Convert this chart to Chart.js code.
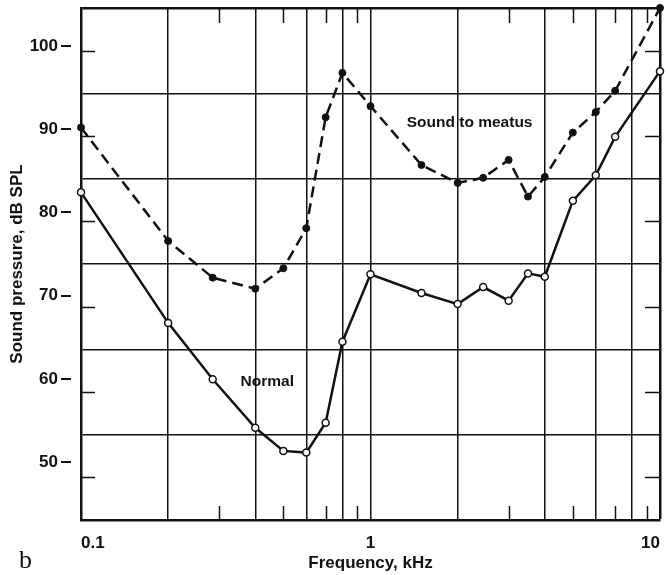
<!DOCTYPE html>
<html>
<head>
<meta charset="utf-8">
<script src="https://cdn.jsdelivr.net/npm/chart.js@4"></script>
<style>
  html, body { margin: 0; padding: 0; background: #fff; }
  #wrap { width: 668px; height: 575px; }
</style>
</head>
<body>
<div id="wrap"><canvas id="myChart" width="668" height="575"></canvas></div>
<script>
// frequencies (kHz) shared by both curves
const freqs = [0.1, 0.2, 0.285, 0.4, 0.5, 0.6, 0.7, 0.8, 1, 1.5, 2, 2.45, 3, 3.5, 4, 5, 6, 7, 10];
const soundToMeatus = [91.0, 77.7, 73.4, 72.1, 74.5, 79.2, 92.2, 97.4, 93.5, 86.6, 84.5, 85.1, 87.2, 82.9, 85.2, 90.4, 92.8, 95.3, 105];
const normal = [83.4, 68.1, 61.5, 55.8, 53.1, 52.9, 56.4, 65.9, 73.8, 71.6, 70.3, 72.3, 70.7, 73.9, 73.5, 82.4, 85.4, 89.9, 97.6];

// axis ticks
const xLabels = [0.1, 1, 10];
const xGrid = [0.2, 0.4, 0.6, 0.8, 1, 2, 4, 6, 8];
const xMinor = [0.3, 0.5, 0.7, 0.9, 3, 5, 7, 9];
const yLabels = [50, 60, 70, 80, 90, 100];
const yGrid = [55, 65, 75, 85, 95];

const ink = '#111';
const font = 'Liberation Sans, Arial, sans-serif';

const toPoints = (ys) => freqs.map((f, i) => ({ x: f, y: ys[i] }));
const near = (a, b) => Math.abs(a - b) < 1e-6;
const inList = (list, v) => list.some(u => near(u, v));
const noPad = (scale) => {
  scale.paddingTop = 0;
  scale.paddingBottom = 0;
  scale.paddingLeft = 0;
  scale.paddingRight = 0;
};

// inside tick marks, label dashes, curve names and panel letter
const decor = {
  id: 'decor',
  afterDraw(chart) {
    const { ctx, chartArea: a, scales: { x, y, yLab } } = chart;
    const line = (x1, y1, x2, y2) => { ctx.beginPath(); ctx.moveTo(x1, y1); ctx.lineTo(x2, y2); ctx.stroke(); };
    ctx.save();
    ctx.strokeStyle = ink;
    ctx.lineWidth = 1.5;
    xMinor.forEach(v => {
      const px = Math.round(x.getPixelForValue(v)) + 0.5;
      line(px, a.bottom, px, a.bottom - 14);
      line(px, a.top, px, a.top + 15);
    });
    yLabels.forEach(v => {
      const py = Math.round(y.getPixelForValue(v)) + 0.5;
      line(a.left, py, a.left + 14, py);
      line(a.right, py, a.right - 15, py);
    });
    ctx.lineWidth = 2;
    yLabels.forEach(v => {
      const py = Math.round(yLab.getPixelForValue(v));
      line(a.left - 20, py, a.left - 10, py);
    });

    ctx.fillStyle = ink;
    ctx.textAlign = 'center';
    ctx.textBaseline = 'middle';
    ctx.font = 'bold 15.5px ' + font;
    ctx.fillText('Sound to meatus', x.getPixelForValue(2.2), y.getPixelForValue(91.5));
    ctx.fillText('Normal', x.getPixelForValue(0.44), y.getPixelForValue(61.2));

    ctx.textAlign = 'left';
    ctx.textBaseline = 'alphabetic';
    ctx.font = '26px Liberation Serif, serif';
    ctx.fillText('b', 19, 568);
    ctx.restore();
  }
};

const ctx = document.getElementById('myChart');

new Chart(ctx, {
  type: 'line',
  data: {
    datasets: [{
      label: 'Sound to meatus',
      data: toPoints(soundToMeatus),
      borderColor: ink,
      borderWidth: 2.5,
      borderDash: [11, 6],
      pointRadius: 3.5,
      pointBackgroundColor: ink,
      pointBorderColor: ink,
      pointBorderWidth: 1,
      tension: 0,
      clip: 10
    }, {
      label: 'Normal',
      data: toPoints(normal),
      borderColor: ink,
      borderWidth: 2.5,
      pointRadius: 3.5,
      pointBackgroundColor: '#fff',
      pointBorderColor: ink,
      pointBorderWidth: 1.5,
      tension: 0,
      clip: 10
    }]
  },
  options: {
    responsive: false,
    animation: false,
    layout: { padding: { top: 8, right: 8, left: 0, bottom: 0 } },
    plugins: {
      legend: { display: false },
      tooltip: { enabled: false }
    },
    scales: {
      x: {
        type: 'logarithmic',
        min: 0.1,
        max: 10,
        afterBuildTicks: (scale) => {
          const vals = [0.1, 0.2, 0.3, 0.4, 0.5, 0.6, 0.7, 0.8, 0.9, 1, 2, 3, 4, 5, 6, 7, 8, 9, 10];
          scale.ticks = vals.map(v => ({ value: v }));
        },
        afterFit: (scale) => { scale.height = 55; noPad(scale); },
        border: { display: true, color: ink, width: 2.5 },
        grid: {
          drawTicks: false,
          color: (c) => (inList(xGrid, c.tick.value) || near(c.tick.value, 10)) ? ink : 'rgba(0,0,0,0)',
          lineWidth: (c) => near(c.tick.value, 10) ? 2.5 : 1.5
        },
        ticks: {
          autoSkip: false,
          maxRotation: 0,
          align: 'inner',
          padding: 13,
          color: ink,
          font: { family: font, size: 17, weight: 'bold' },
          callback: (v) => inList(xLabels, v) ? String(v) : ''
        },
        title: {
          display: true,
          text: 'Frequency, kHz',
          color: ink,
          font: { family: font, size: 17, weight: 'bold' },
          padding: { top: 0, bottom: 1 }
        }
      },
      // data axis: grid, border and plotting
      y: {
        type: 'linear',
        position: 'left',
        weight: 0,
        min: 45,
        max: 105,
        afterBuildTicks: (scale) => {
          const vals = [];
          for (let v = 45; v <= 105; v += 5) vals.push(v);
          scale.ticks = vals.map(v => ({ value: v }));
        },
        afterFit: (scale) => { scale.width = 0; noPad(scale); },
        border: { display: true, color: ink, width: 2.5 },
        grid: {
          drawTicks: false,
          color: (c) => (inList(yGrid, c.tick.value) || c.tick.value === 105) ? ink : 'rgba(0,0,0,0)',
          lineWidth: (c) => c.tick.value === 105 ? 2.5 : 1.5
        },
        ticks: { display: false }
      },
      // label axis: the printed numbers sit on a slightly tighter scale
      yLab: {
        type: 'linear',
        position: 'left',
        weight: 1,
        min: 43.03,
        max: 104.57,
        afterBuildTicks: (scale) => {
          scale.ticks = yLabels.map(v => ({ value: v }));
        },
        afterFit: (scale) => { scale.width = 81; noPad(scale); },
        border: { display: false },
        grid: { display: false, drawTicks: false },
        ticks: {
          autoSkip: false,
          padding: 23,
          color: ink,
          font: { family: font, size: 17, weight: 'bold' }
        },
        title: {
          display: true,
          text: 'Sound pressure, dB SPL',
          color: ink,
          font: { family: font, size: 17, weight: 'bold' },
          padding: { top: 7, bottom: 0 }
        }
      }
    }
  },
  plugins: [decor]
});
</script>
</body>
</html>
